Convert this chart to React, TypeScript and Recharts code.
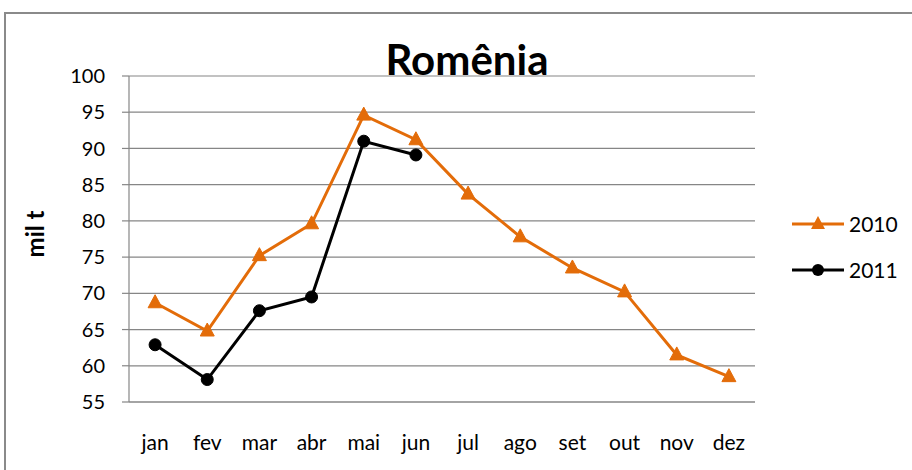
import React from 'react';
import { LineChart, Line, XAxis, YAxis, CartesianGrid, Label } from 'recharts';

const months = ['jan', 'fev', 'mar', 'abr', 'mai', 'jun', 'jul', 'ago', 'set', 'out', 'nov', 'dez'];
const values2010 = [68.7, 64.8, 75.2, 79.6, 94.6, 91.2, 83.7, 77.8, 73.5, 70.2, 61.5, 58.5];
const values2011 = [62.9, 58.1, 67.6, 69.5, 91.0, 89.1];
const yTicks = [55, 60, 65, 70, 75, 80, 85, 90, 95, 100];
const boundaryTicks = [0, 1, 2, 3, 4, 5, 6, 7, 8, 9, 10, 11, 12];
const labelTicks = months.map((_, i) => i + 0.5);

const ORANGE = '#E36C09';
const BLACK = '#000000';
const GRAY = '#868686';
const FONT = 'Lato, "Open Sans", sans-serif';

const data = months.map((m, i) => ({
  pos: i + 0.5,
  month: m,
  v2010: values2010[i],
  v2011: i < values2011.length ? values2011[i] : null,
}));

const TriangleDot = (props: any) => {
  const { cx, cy, index } = props;
  if (cx == null || cy == null) return <g key={`t-${index}`} />;
  return (
    <path
      key={`t-${index}`}
      d={`M${cx},${cy - 8} L${cx + 7},${cy + 5} L${cx - 7},${cy + 5} Z`}
      fill={ORANGE}
      stroke={ORANGE}
    />
  );
};

const CircleDot = (props: any) => {
  const { cx, cy, index } = props;
  if (cx == null || cy == null) return <g key={`c-${index}`} />;
  return <circle key={`c-${index}`} cx={cx} cy={cy} r={6} fill={BLACK} stroke={BLACK} />;
};

export default function App() {
  return (
    <div style={{ position: 'absolute', left: 0, top: 0, width: 912, height: 470, overflow: 'hidden', background: '#fff' }}>
      <div
        style={{
          position: 'absolute',
          left: 4,
          top: 12,
          width: 1000,
          height: 1000,
          border: '2px solid #8a8a8a',
        }}
      />
      <div
        style={{
          position: 'absolute',
          left: 467,
          top: 34,
          transform: 'translateX(-50%)',
          fontFamily: FONT,
          fontWeight: 700,
          fontSize: 42,
          lineHeight: '50px',
          color: '#000',
          whiteSpace: 'nowrap',
        }}
      >
        Romênia
      </div>
      <div style={{ position: 'absolute', left: 0, top: 0 }}>
        <LineChart
          width={912}
          height={470}
          data={data}
          margin={{ top: 76, right: 157, bottom: 0, left: 29 }}
        >
          <CartesianGrid xAxisId="grid" vertical={false} stroke={GRAY} strokeWidth={1.2} />
          <XAxis
            xAxisId="grid"
            type="number"
            dataKey="pos"
            domain={[0, 12]}
            ticks={boundaryTicks}
            tick={false}
            tickSize={7}
            height={7}
            axisLine={{ stroke: GRAY, strokeWidth: 1.2 }}
            tickLine={{ stroke: GRAY, strokeWidth: 1.2 }}
            allowDataOverflow
          />
          <XAxis
            xAxisId="lab"
            type="number"
            dataKey="pos"
            domain={[0, 12]}
            ticks={labelTicks}
            interval={0}
            tickFormatter={(v: number) => months[Math.floor(v)]}
            axisLine={false}
            tickLine={false}
            tickSize={0}
            tickMargin={26}
            height={61}
            tick={{ fill: '#000', fontSize: 21, fontFamily: FONT }}
          />
          <YAxis
            type="number"
            domain={[55, 100]}
            ticks={yTicks}
            interval={0}
            width={100}
            tickSize={7}
            tickMargin={17}
            axisLine={{ stroke: GRAY, strokeWidth: 1.2 }}
            tickLine={{ stroke: GRAY, strokeWidth: 1.2 }}
            tick={{ fill: '#000', fontSize: 20, fontFamily: FONT }}
          >
            <Label
              value="mil t"
              angle={-90}
              position="insideLeft"
              offset={6}
              dy={-5}
              fontSize={24}
              fontWeight={700}
              fontFamily={FONT}
              fill="#000"
              style={{ textAnchor: 'middle', fontWeight: 700, fontSize: 24, fontFamily: FONT, fill: '#000' }}
            />
          </YAxis>
          <Line
            xAxisId="lab"
            type="linear"
            dataKey="v2010"
            stroke={ORANGE}
            strokeWidth={3}
            dot={TriangleDot}
            activeDot={false}
            isAnimationActive={false}
          />
          <Line
            xAxisId="lab"
            type="linear"
            dataKey="v2011"
            stroke={BLACK}
            strokeWidth={3}
            dot={CircleDot}
            activeDot={false}
            connectNulls={false}
            isAnimationActive={false}
          />
        </LineChart>
      </div>
      <div style={{ position: 'absolute', left: 792, top: 211, display: 'flex', alignItems: 'center', fontFamily: FONT, fontSize: 21 }}>
        <svg width={54} height={24}>
          <line x1={0} y1={12} x2={52} y2={12} stroke={ORANGE} strokeWidth={3} />
          <path d="M26,4 L33,17 L19,17 Z" fill={ORANGE} />
        </svg>
        <span style={{ marginLeft: 3 }}>2010</span>
      </div>
      <div style={{ position: 'absolute', left: 792, top: 257, display: 'flex', alignItems: 'center', fontFamily: FONT, fontSize: 21 }}>
        <svg width={54} height={24}>
          <line x1={0} y1={12} x2={52} y2={12} stroke={BLACK} strokeWidth={3} />
          <circle cx={26} cy={12} r={6} fill={BLACK} />
        </svg>
        <span style={{ marginLeft: 3 }}>2011</span>
      </div>
    </div>
  );
}
